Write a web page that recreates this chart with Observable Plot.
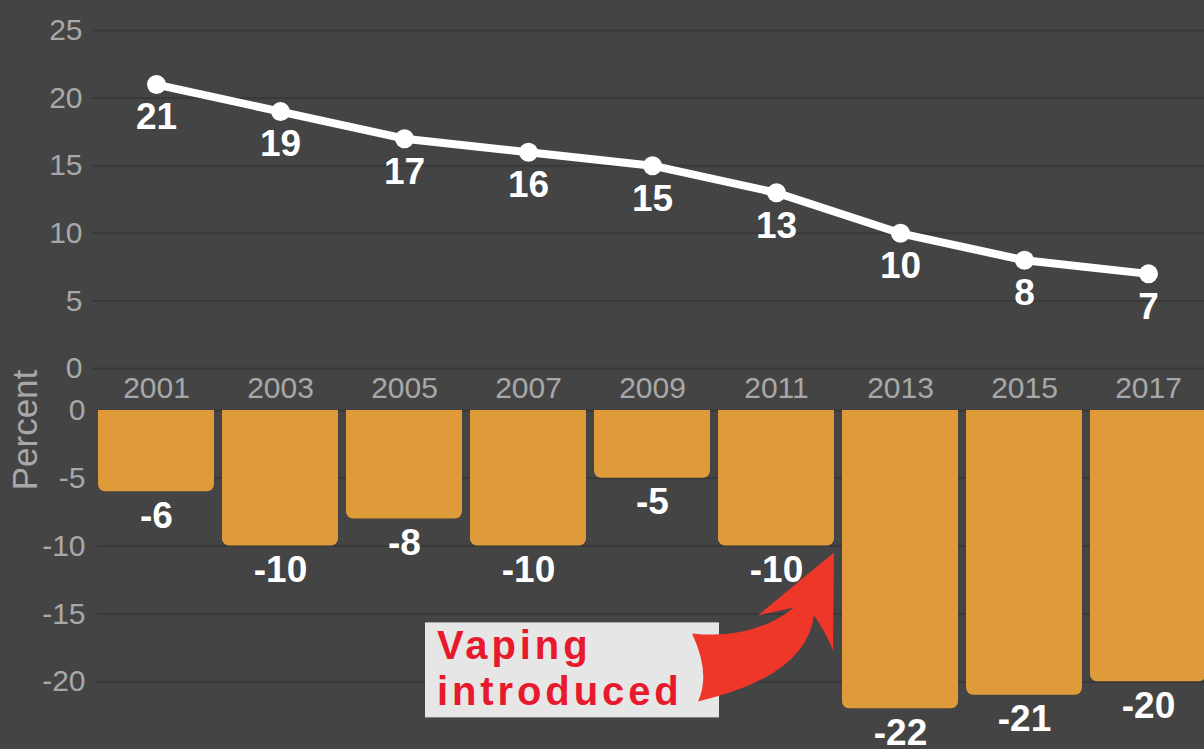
<!DOCTYPE html>
<html>
<head>
<meta charset="utf-8">
<script src="https://cdn.jsdelivr.net/npm/d3@7"></script>
<script src="https://cdn.jsdelivr.net/npm/@observablehq/plot@0.6"></script>
<style>
  html, body { margin: 0; padding: 0; background: #444444; overflow: hidden; }
  #chart { position: relative; width: 1204px; height: 749px; overflow: hidden; background: #444444; font-family: "Liberation Sans", Arial, sans-serif; }
  #chart svg { display: block; }
  #percent { position: absolute; left: 25px; top: 430px; transform: translate(-50%, -50%) rotate(-90deg); color: #a8a8a8; font-size: 35px; white-space: nowrap; }
</style>
</head>
<body>
<div id="chart"></div>
<script>
// ---- data ----
const years = ["2001", "2003", "2005", "2007", "2009", "2011", "2013", "2015", "2017"];
const smokingRate = [21, 19, 17, 16, 15, 13, 10, 8, 7];
const relativeChange = [-6, -10, -8, -10, -5, -10, -22, -21, -20];
const topTicks = [0, 5, 10, 15, 20, 25];
const bottomTicks = [0, -5, -10, -15, -20];
const annotationText = ["Vaping", "introduced"];
const annotationYear = "2011";

const lineData = years.map((year, i) => ({year, value: smokingRate[i]}));
const barData = years.map((year, i) => ({year, value: relativeChange[i]}));

const xScale = {type: "band", domain: years, range: [89, 1215], padding: 0.065};
const font = "'Liberation Sans', Arial, sans-serif";
const gridStyle = {stroke: "#393939", strokeOpacity: 1, strokeWidth: 2};
const plain = d => String(d);

const topPlot = Plot.plot({
  width: 1204,
  height: 400,
  marginTop: 30,
  marginBottom: 32,
  marginLeft: 92,
  marginRight: 0,
  style: {background: "transparent", color: "#a8a8a8", fontFamily: font, fontSize: "30px", overflow: "visible"},
  x: xScale,
  y: {domain: [0, 25], ticks: topTicks},
  marks: [
    Plot.gridY(topTicks, gridStyle),
    Plot.axisY(topTicks, {tickSize: 0, tickPadding: 10, label: null, tickFormat: plain}),
    Plot.axisX({tickSize: 0, tickPadding: 8, label: null}),
    Plot.line(lineData, {x: "year", y: "value", stroke: "white", strokeWidth: 8}),
    Plot.dot(lineData, {x: "year", y: "value", r: 9.5, fill: "white"}),
    Plot.text(lineData, {x: "year", y: "value", text: d => String(d.value), dy: 33, fill: "white", fontSize: 37, fontWeight: "bold"})
  ]
});

const bottomPlot = Plot.plot({
  width: 1204,
  height: 349,
  marginTop: 10,
  marginBottom: 0,
  marginLeft: 97,
  marginRight: 0,
  style: {background: "transparent", color: "#a8a8a8", fontFamily: font, fontSize: "30px", overflow: "visible"},
  x: {...xScale, axis: null},
  y: {domain: [-25, 0], ticks: bottomTicks},
  marks: [
    Plot.gridY(bottomTicks, gridStyle),
    Plot.axisY(bottomTicks, {tickSize: 0, tickPadding: 12, label: null, tickFormat: plain}),
    Plot.barY(barData, {x: "year", y: "value", fill: "#df9a3a", rx: 7}),
    Plot.barY(barData, {x: "year", y1: 0, y2: d => d.value / 2, fill: "#df9a3a"}),
    Plot.text(barData, {x: "year", y: "value", text: d => String(d.value), dy: 24, fill: "white", fontSize: 37, fontWeight: "bold"}),
    // annotation box + curved arrow pointing at the end of the annotated year's bar
    (index, scales) => {
      const xs = scales.x, ys = scales.y;
      const tipX = xs(annotationYear) + xs.bandwidth();
      const tipY = ys(-10.5);
      const g = d3.create("svg:g");
      g.append("rect")
        .attr("x", tipX - 409).attr("y", tipY + 70)
        .attr("width", 294).attr("height", 95)
        .attr("fill", "#e6e6e6");
      g.append("text")
        .attr("fill", "#e8192c")
        .attr("text-anchor", "start")
        .attr("font-family", font)
        .attr("font-weight", "bold")
        .attr("font-size", 40)
        .attr("letter-spacing", "3.9px")
        .selectAll("tspan")
        .data(annotationText)
        .join("tspan")
        .attr("x", tipX - 397)
        .attr("y", (d, i) => tipY + 107 + i * 46)
        .text(d => d);
      const p = d3.path();
      p.moveTo(tipX, tipY);
      p.lineTo(tipX - 76, tipY + 63);
      p.lineTo(tipX - 40, tipY + 55);
      p.quadraticCurveTo(tipX - 81, tipY + 88, tipX - 142, tipY + 81);
      p.quadraticCurveTo(tipX - 123, tipY + 121, tipX - 136, tipY + 149);
      p.quadraticCurveTo(tipX - 28, tipY + 124, tipX - 20, tipY + 63);
      p.quadraticCurveTo(tipX - 8, tipY + 80, tipX - 1, tipY + 98);
      p.closePath();
      g.append("path").attr("d", p.toString()).attr("fill", "#ee3629");
      return g.node();
    }
  ]
});

const chart = document.getElementById("chart");
chart.appendChild(topPlot);
chart.appendChild(bottomPlot);

const percent = document.createElement("div");
percent.id = "percent";
percent.textContent = "Percent";
chart.appendChild(percent);
</script>
</body>
</html>
